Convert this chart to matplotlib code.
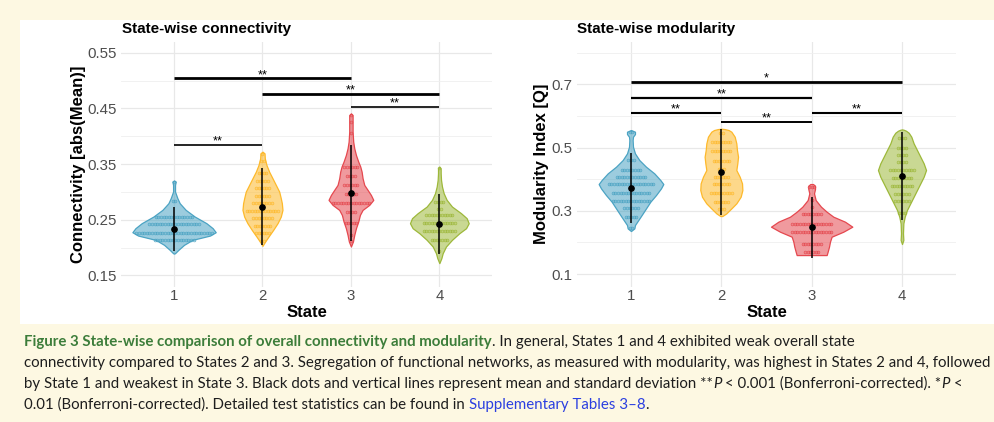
import numpy as np
import matplotlib
matplotlib.use("Agg")
import matplotlib.pyplot as plt
from matplotlib.colors import to_rgba
from matplotlib.patches import Rectangle
from matplotlib.ticker import FixedLocator

W, H = 995, 422
plt.rcParams['font.family'] = ['Liberation Sans', 'DejaVu Sans']

states = [1, 2, 3, 4]
state_labels = ['1', '2', '3', '4']
colors = ['#4BA3C3', '#FDB92B', '#E5484F', '#9DB83A']

# ---------------- connectivity panel ----------------
conn_major = [0.15, 0.25, 0.35, 0.45, 0.55]
conn_minor = [0.2, 0.3, 0.4, 0.5]
conn_ylim = (0.129, 0.570)

conn_s1_y = [0.3205, 0.3185, 0.3125, 0.3005, 0.2885, 0.2796, 0.2676, 0.2556, 0.2437, 0.2347, 0.2275, 0.2215, 0.2137, 0.2048, 0.1958, 0.1898, 0.1890]
conn_s1_w = [0.0, 0.019, 0.011, 0.011, 0.038, 0.064, 0.132, 0.234, 0.366, 0.437, 0.471, 0.407, 0.207, 0.113, 0.049, 0.011, 0.0]
conn_s2_y = [0.3723, 0.3693, 0.3604, 0.3484, 0.3364, 0.3245, 0.3125, 0.3005, 0.2886, 0.2796, 0.2676, 0.2556, 0.2437, 0.2317, 0.2197, 0.2108, 0.2030]
conn_s2_w = [0.0, 0.023, 0.026, 0.045, 0.075, 0.113, 0.151, 0.189, 0.207, 0.219, 0.226, 0.207, 0.170, 0.121, 0.068, 0.030, 0.0]
conn_s3_y = [0.4411, 0.4381, 0.4262, 0.4082, 0.3903, 0.3783, 0.3663, 0.3544, 0.3454, 0.3364, 0.3245, 0.3125, 0.3035, 0.2945, 0.2856, 0.2766, 0.2676, 0.2586, 0.2467, 0.2347, 0.2227, 0.2108, 0.2018]
conn_s3_w = [0.0, 0.019, 0.019, 0.019, 0.026, 0.038, 0.057, 0.083, 0.106, 0.121, 0.132, 0.151, 0.189, 0.226, 0.253, 0.207, 0.132, 0.102, 0.083, 0.057, 0.038, 0.023, 0.0]
conn_s4_y = [0.3454, 0.3424, 0.3335, 0.3215, 0.3095, 0.2976, 0.2856, 0.2736, 0.2617, 0.2527, 0.2437, 0.2347, 0.2257, 0.2138, 0.2018, 0.1898, 0.1809, 0.1719]
conn_s4_w = [0.0, 0.015, 0.015, 0.019, 0.030, 0.049, 0.083, 0.143, 0.245, 0.309, 0.332, 0.302, 0.226, 0.143, 0.075, 0.038, 0.023, 0.0]

conn_dots_s1_y = [0.3185, 0.2838, 0.2550, 0.2424, 0.2269, 0.2132]
conn_dots_s1_n = [1, 2, 15, 20, 30, 16]
conn_dots_s2_y = [0.3675, 0.3556, 0.3346, 0.3203, 0.3065, 0.2933, 0.2808, 0.2664, 0.2538, 0.2389, 0.2257, 0.2125]
conn_dots_s2_n = [1, 2, 4, 5, 6, 6, 8, 13, 8, 7, 6, 2]
conn_dots_s3_y = [0.4381, 0.4262, 0.4052, 0.3442, 0.3292, 0.3125, 0.2957, 0.2808, 0.2646, 0.2437, 0.2227, 0.2108]
conn_dots_s3_n = [1, 1, 1, 6, 4, 6, 5, 15, 4, 5, 1, 1]
conn_dots_s4_y = [0.3424, 0.2825, 0.2688, 0.2580, 0.2437, 0.2293, 0.2137, 0.1945]
conn_dots_s4_n = [1, 4, 2, 11, 13, 13, 7, 1]

conn_mean = [0.2325, 0.2736, 0.2975, 0.2425]
conn_sd = [0.0395, 0.0688, 0.0860, 0.0535]

conn_sig_pairs = [(1, 3), (2, 4), (3, 4), (1, 2)]
conn_sig_y = [0.504, 0.4758, 0.4525, 0.3843]
conn_sig_labels = ['**', '**', '**', '**']
conn_sig_lw = [2.0, 2.0, 1.2, 1.2]

# ---------------- modularity panel ----------------
mod_major = [0.1, 0.3, 0.5, 0.7]
mod_minor = [0.2, 0.4, 0.6, 0.8]
mod_ylim = (0.059, 0.835)

mod_s1_y = [0.5555, 0.5502, 0.5428, 0.5344, 0.5238, 0.5028, 0.4817, 0.4606, 0.4395, 0.4184, 0.3973, 0.3847, 0.3710, 0.3499, 0.3288, 0.3077, 0.2867, 0.2708, 0.2550, 0.2445, 0.2360]
mod_s1_w = [0.0, 0.044, 0.044, 0.022, 0.018, 0.022, 0.044, 0.092, 0.166, 0.258, 0.325, 0.358, 0.332, 0.277, 0.214, 0.166, 0.118, 0.081, 0.044, 0.037, 0.0]
mod_s2_y = [0.5597, 0.5586, 0.5555, 0.5502, 0.5344, 0.5133, 0.4922, 0.4711, 0.4501, 0.4290, 0.4079, 0.3868, 0.3657, 0.3446, 0.3236, 0.3077, 0.2919, 0.2835]
mod_s2_w = [0.0, 0.037, 0.081, 0.111, 0.148, 0.166, 0.173, 0.185, 0.177, 0.166, 0.203, 0.229, 0.233, 0.214, 0.166, 0.111, 0.055, 0.011]
mod_s3_y = [0.3847, 0.3795, 0.3689, 0.3552, 0.3341, 0.3131, 0.2972, 0.2814, 0.2656, 0.2498, 0.2340, 0.2182, 0.2024, 0.1865, 0.1707, 0.1600]
mod_s3_w = [0.015, 0.037, 0.037, 0.026, 0.044, 0.103, 0.166, 0.240, 0.369, 0.450, 0.351, 0.221, 0.203, 0.192, 0.177, 0.166]
mod_s4_y = [0.5576, 0.5565, 0.5534, 0.5470, 0.5344, 0.5133, 0.4922, 0.4711, 0.4501, 0.4290, 0.4079, 0.3868, 0.3657, 0.3446, 0.3236, 0.3025, 0.2814, 0.2603, 0.2287, 0.2076, 0.1950]
mod_s4_w = [0.0, 0.018, 0.044, 0.074, 0.103, 0.129, 0.166, 0.203, 0.240, 0.266, 0.240, 0.203, 0.166, 0.129, 0.092, 0.055, 0.030, 0.015, 0.011, 0.015, 0.0]

mod_dots_s1_y = [0.548, 0.4606, 0.4289, 0.406, 0.3847, 0.3574, 0.3319, 0.3078, 0.2794, 0.2445]
mod_dots_s1_n = [2, 3, 8, 12, 18, 15, 15, 6, 5, 2]
mod_dots_s2_y = [0.547, 0.5165, 0.489, 0.4574, 0.4311, 0.4058, 0.3837, 0.3552, 0.3288, 0.3046]
mod_dots_s2_n = [2, 8, 8, 7, 3, 6, 7, 9, 6, 3]
mod_dots_s3_y = [0.3762, 0.334, 0.311, 0.2898, 0.2582, 0.2339, 0.194, 0.1687]
mod_dots_s3_n = [3, 1, 1, 8, 16, 16, 8, 6]
mod_dots_s4_y = [0.5312, 0.4996, 0.4764, 0.4532, 0.429, 0.4026, 0.3794, 0.3531, 0.331, 0.292]
mod_dots_s4_n = [3, 4, 4, 4, 10, 8, 9, 6, 6, 3]

mod_mean = [0.371, 0.4217, 0.2477, 0.410]
mod_sd = [0.111, 0.136, 0.0975, 0.138]

mod_sig_pairs = [(1, 4), (1, 3), (1, 2), (3, 4), (2, 3)]
mod_sig_y = [0.7073, 0.6576, 0.6092, 0.6092, 0.5817]
mod_sig_labels = ['*', '**', '**', '**', '**']
mod_sig_lw = [2.0, 1.6, 1.5, 1.5, 1.4]

# ---------------- figure ----------------
BG = '#FDF8E2'
fig = plt.figure(figsize=(W / 100, H / 100), dpi=100, facecolor=BG)


def fx(x):
    return x / W


def fy(y):
    return 1 - y / H


fig.patches.append(Rectangle((fx(20), fy(324)), fx(W - 20), (324 - 20) / H,
                             transform=fig.transFigure, facecolor='white',
                             edgecolor='none', zorder=-10))


def make_axes(x0, x1, y0=41.7, y1=287.0):
    return fig.add_axes([fx(x0), fy(y1), (x1 - x0) / W, (y1 - y0) / H])


def style_axes(ax, major, minor, ylim):
    ax.set_facecolor('none')
    ax.set_xlim(0.4, 4.6)
    ax.set_ylim(*ylim)
    ax.set_xticks(states)
    ax.set_xticklabels(state_labels)
    ax.set_yticks(major)
    ax.set_yticklabels([f'{v:g}' for v in major])
    ax.yaxis.set_minor_locator(FixedLocator(minor))
    for s in ax.spines.values():
        s.set_visible(False)
    ax.tick_params(axis='both', which='both', length=0, labelsize=10.8,
                   labelcolor='#4D4D4D')
    ax.tick_params(axis='y', pad=3.2)
    ax.tick_params(axis='x', pad=1.5)
    ax.grid(True, which='major', color='#E8E8E8', lw=0.9, zorder=0)
    ax.grid(True, which='minor', axis='y', color='#EFEFEF', lw=0.6, zorder=0)
    ax.set_axisbelow(True)


def draw_panel(ax, prof_y, prof_w, dots_y, dots_n, means, sds, sig_pairs,
               sig_y, sig_labels, sig_lw, spacing):
    for i, x0 in enumerate(states):
        yy = np.array(prof_y[i])
        ww = np.array(prof_w[i])
        ax.fill_betweenx(yy, x0 - ww, x0 + ww, facecolor=to_rgba(colors[i], 0.55),
                         edgecolor=colors[i], lw=0.9, zorder=2)
        for yv, n in zip(dots_y[i], dots_n[i]):
            xs = x0 + (np.arange(n) - (n - 1) / 2) * spacing
            ax.plot(xs, [yv] * n, 'o', ms=2.0, mfc=to_rgba(colors[i], 0.25),
                    mec=to_rgba(colors[i], 0.85), mew=0.5, ls='none', zorder=3)
        ax.plot([x0, x0], [means[i] - sds[i], means[i] + sds[i]], color='black',
                lw=1.1, zorder=4, solid_capstyle='butt')
        ax.plot([x0], [means[i]], 'o', color='black', ms=3.8, zorder=5)
    for (a, b), yv, lab, lw in zip(sig_pairs, sig_y, sig_labels, sig_lw):
        ax.plot([a, b], [yv, yv], color='black', lw=lw, zorder=4,
                solid_capstyle='butt')
        ax.annotate(lab, ((a + b) / 2, yv), xytext=(0, 0.3),
                    textcoords='offset points', ha='center', va='baseline',
                    fontsize=9.2, color='black', zorder=5)


# Left panel
axL = make_axes(121.0, 492.4)
style_axes(axL, conn_major, conn_minor, conn_ylim)
draw_panel(axL,
           [conn_s1_y, conn_s2_y, conn_s3_y, conn_s4_y],
           [conn_s1_w, conn_s2_w, conn_s3_w, conn_s4_w],
           [conn_dots_s1_y, conn_dots_s2_y, conn_dots_s3_y, conn_dots_s4_y],
           [conn_dots_s1_n, conn_dots_s2_n, conn_dots_s3_n, conn_dots_s4_n],
           conn_mean, conn_sd, conn_sig_pairs, conn_sig_y, conn_sig_labels,
           conn_sig_lw, 2.6 / 88.4)

# Right panel
axR = make_axes(576.8, 956.2)
style_axes(axR, mod_major, mod_minor, mod_ylim)
draw_panel(axR,
           [mod_s1_y, mod_s2_y, mod_s3_y, mod_s4_y],
           [mod_s1_w, mod_s2_w, mod_s3_w, mod_s4_w],
           [mod_dots_s1_y, mod_dots_s2_y, mod_dots_s3_y, mod_dots_s4_y],
           [mod_dots_s1_n, mod_dots_s2_n, mod_dots_s3_n, mod_dots_s4_n],
           mod_mean, mod_sd, mod_sig_pairs, mod_sig_y, mod_sig_labels,
           mod_sig_lw, 2.6 / 90.3)

# Titles and axis labels
fig.text(fx(122), fy(33.5), 'State-wise connectivity', fontsize=11,
         fontweight='bold', ha='left', va='baseline', color='black')
fig.text(fx(577), fy(33.5), 'State-wise modularity', fontsize=11,
         fontweight='bold', ha='left', va='baseline', color='black')
fig.text(fx(78), fy(164), 'Connectivity [abs(Mean)]', fontsize=12,
         fontweight='bold', rotation=90, ha='center', va='center')
fig.text(fx(541.5), fy(164), 'Modularity Index [Q]', fontsize=12,
         fontweight='bold', rotation=90, ha='center', va='center')
fig.text(fx(306.7), fy(317), 'State', fontsize=12, fontweight='bold',
         ha='center', va='baseline')
fig.text(fx(766.5), fy(317), 'State', fontsize=12, fontweight='bold',
         ha='center', va='baseline')

# ---------------- caption ----------------
CAP_FONT = ['Lato', 'DejaVu Sans']
GREEN = '#3C7D3A'
BLUE = '#2B3FE0'
TXT = '#1E1E1E'

caption_lines = [
    [('Figure 3 State-wise comparison of overall connectivity and modularity', GREEN, 'bold', 'normal'),
     ('. In general, States 1 and 4 exhibited weak overall state', TXT, 'normal', 'normal')],
    [('connectivity compared to States 2 and 3. Segregation of functional networks, as measured with modularity, was highest in States 2 and 4, followed', TXT, 'normal', 'normal')],
    [('by State 1 and weakest in State 3. Black dots and vertical lines represent mean and standard deviation **', TXT, 'normal', 'normal'),
     ('P', TXT, 'normal', 'italic'),
     (' < 0.001 (Bonferroni-corrected). *', TXT, 'normal', 'normal'),
     ('P', TXT, 'normal', 'italic'),
     (' <', TXT, 'normal', 'normal')],
    [('0.01 (Bonferroni-corrected). Detailed test statistics can be found in ', TXT, 'normal', 'normal'),
     ('Supplementary Tables 3\u20138', BLUE, 'normal', 'normal'),
     ('.', TXT, 'normal', 'normal')],
]
caption_baselines = [346, 367, 388, 409]
caption_x0 = 24
caption_line2_width = 966

renderer = fig.canvas.get_renderer()

# fit font size to the measured width of the second caption line
probe = fig.text(0, 0, caption_lines[1][0][0], fontsize=10, family=CAP_FONT)
pw = probe.get_window_extent(renderer).width
probe.remove()
cap_fs = 10 * caption_line2_width / pw

for segs, base in zip(caption_lines, caption_baselines):
    x = caption_x0
    for text, col, wt, st in segs:
        t = fig.text(fx(x), fy(base), text, fontsize=cap_fs, family=CAP_FONT,
                     color=col, fontweight=wt, fontstyle=st, ha='left',
                     va='baseline')
        x += t.get_window_extent(renderer).width

fig.savefig('out.png', dpi=100, facecolor=BG)
